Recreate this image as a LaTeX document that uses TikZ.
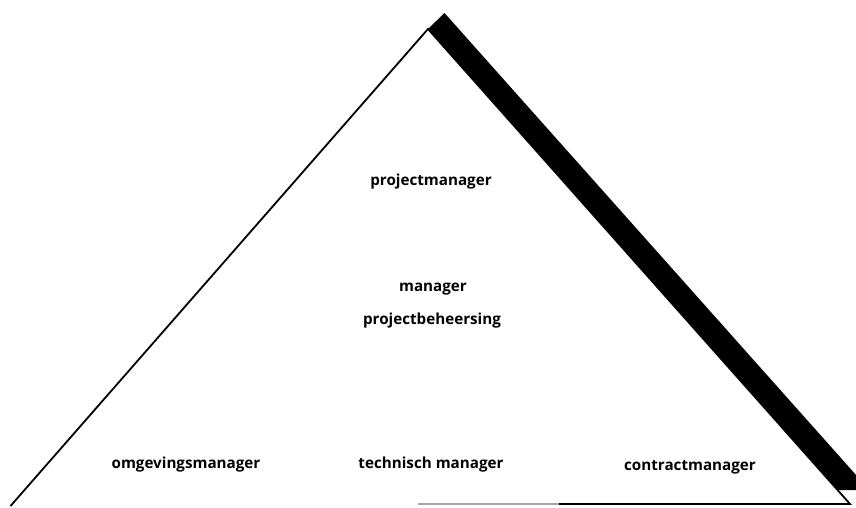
\documentclass[tikz,border=0pt]{standalone}
\usepackage{fontspec}
\setmainfont{Open Sans}
\begin{document}
\begin{tikzpicture}[x=1pt,y=-1pt,
  edge/.style={line width=1.8pt,black},
  role/.style={font=\fontsize{15.2}{18}\selectfont\bfseries,inner sep=0pt,anchor=center}]
\useasboundingbox (0,0) rectangle (856,507);
\clip (0,0) rectangle (856,507);
% corners of the triangle
\coordinate (top) at (428,29);
\coordinate (left) at (10.5,506);
\coordinate (right) at (850,504);
\coordinate (baseL) at (418,504);
\coordinate (baseM) at (559,504);
% heavy shadow band along the right side
\fill[black] (top) -- (444.5,13) -- (889,512) -- (889,490) -- (838,490) -- cycle;
% outline
\draw[edge] (left) -- (top) -- (right) -- (baseM);
\draw[line width=1.2pt,black!35] (baseM) -- (baseL);
% roles
\node[role] (pm) at (431,182) {projectmanager};
\node[role] (mpb1) at (433,289) {manager};
\node[role] (mpb2) at (432,321) {projectbeheersing};
\node[role] (om) at (186,465) {omgevingsmanager};
\node[role] (tm) at (431,465) {technisch manager};
\node[role] (cm) at (690,467) {contractmanager};
\end{tikzpicture}
\end{document}
